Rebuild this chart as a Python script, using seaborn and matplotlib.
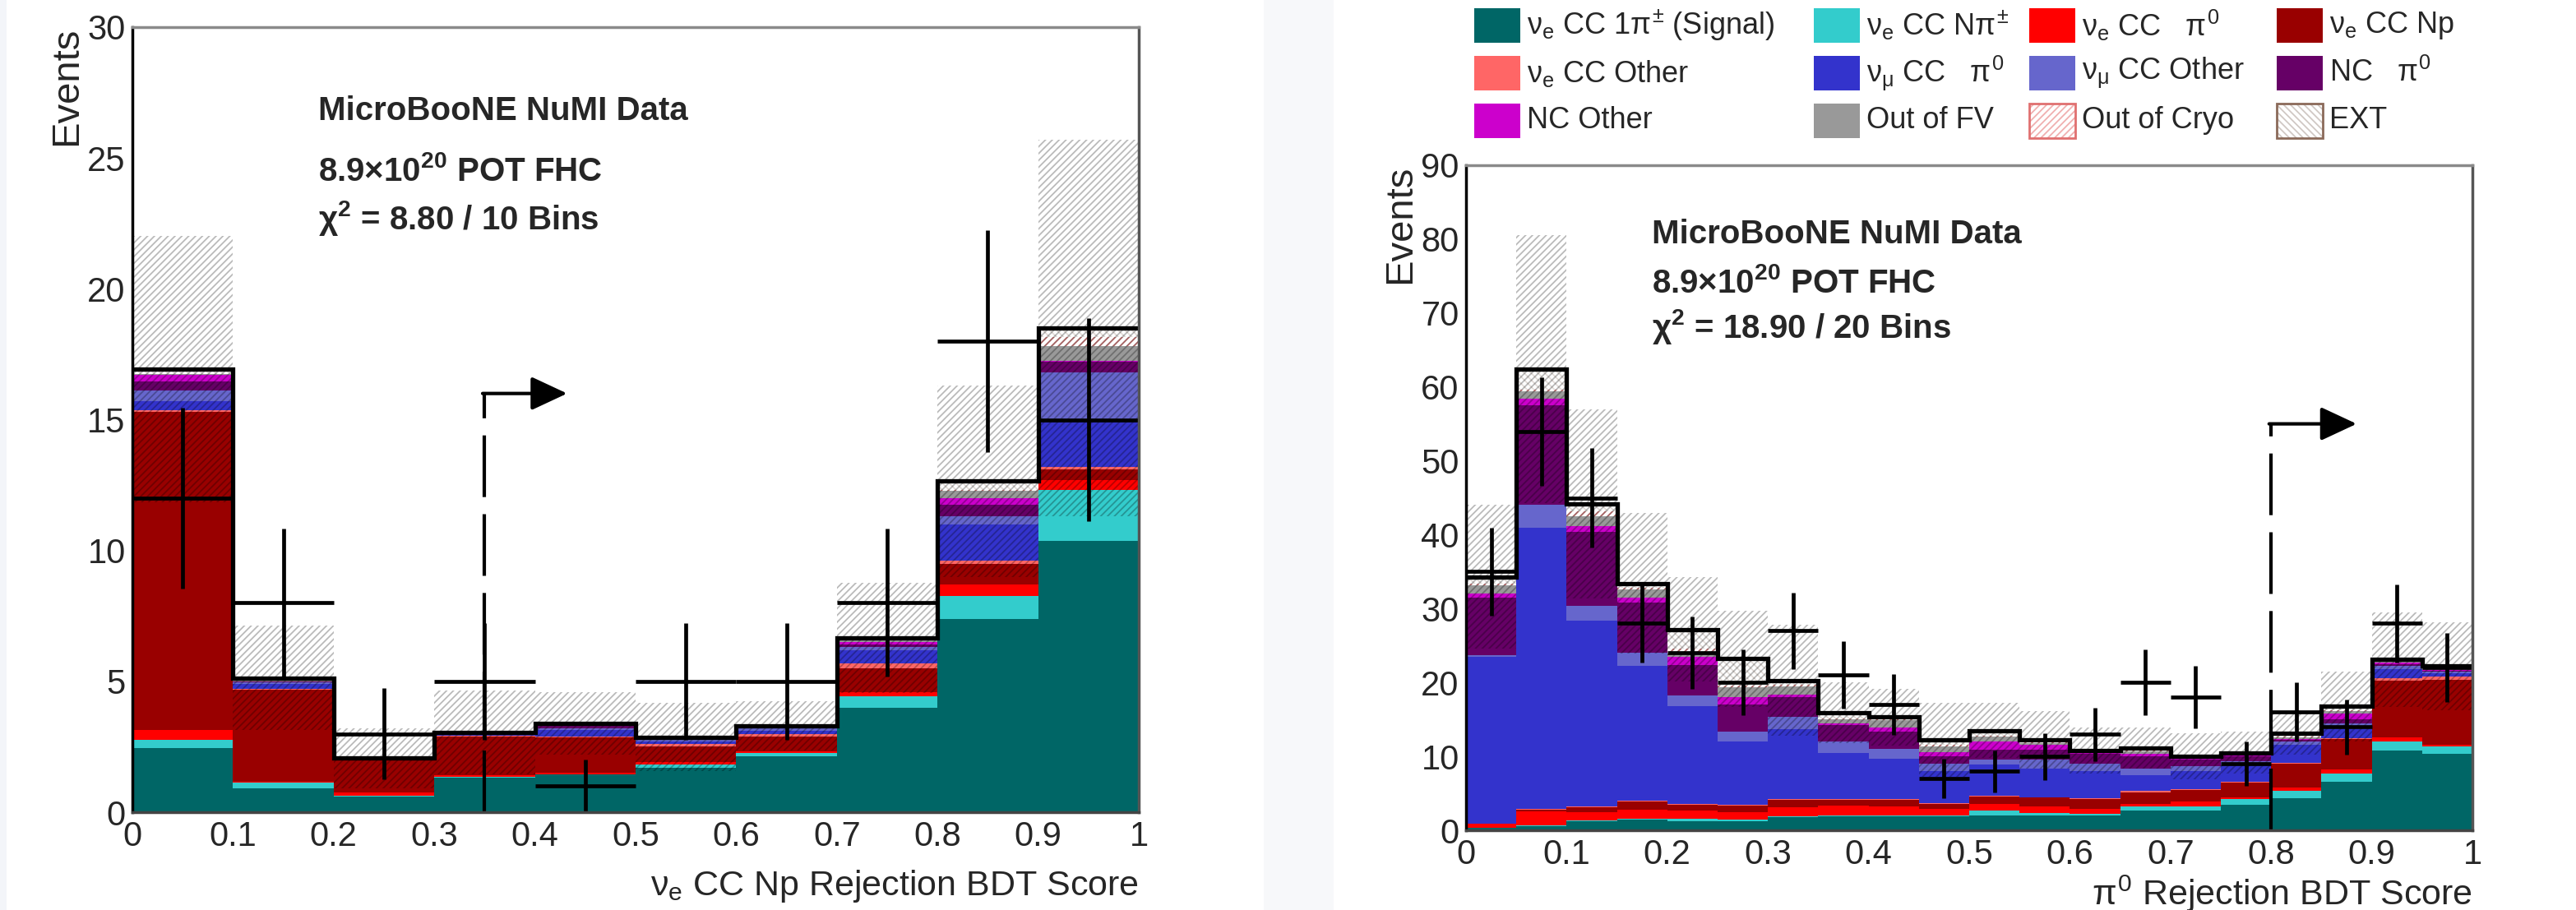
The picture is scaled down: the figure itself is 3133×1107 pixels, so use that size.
import numpy as np
import pandas as pd
import matplotlib.pyplot as plt
from matplotlib.patches import Rectangle
from matplotlib.colors import to_rgba
import seaborn as sns

sns.set_style("white")
plt.rcParams['font.family'] = ['Liberation Sans', 'DejaVu Sans']
plt.rcParams['mathtext.fontset'] = 'custom'
plt.rcParams['mathtext.rm'] = 'Liberation Sans'
plt.rcParams['mathtext.it'] = 'Liberation Sans'
plt.rcParams['mathtext.bf'] = 'Liberation Sans:bold'
plt.rcParams['hatch.linewidth'] = 1.3

# categories, bottom of the stack first
categories = ["signal", "cc_npi", "cc_pi0", "cc_np", "cc_other", "numu_pi0",
              "numu_other", "nc_pi0", "nc_other", "out_fv", "out_cryo", "ext"]
labels = [r"$\nu_e$ CC 1$\pi^{\pm}$ (Signal)", r"$\nu_e$ CC N$\pi^{\pm}$",
          r"$\nu_e$ CC   $\pi^0$", r"$\nu_e$ CC Np", r"$\nu_e$ CC Other",
          r"$\nu_\mu$ CC   $\pi^0$", r"$\nu_\mu$ CC Other", r"NC   $\pi^0$",
          "NC Other", "Out of FV", "Out of Cryo", "EXT"]
colors = ["#006666", "#33cccc", "#ff0000", "#990000", "#ff6666", "#3333cc",
          "#6666cc", "#660066", "#cc00cc", "#999999", "#fffffe", "#fefffe"]

# ---- left panel: nue CC Np rejection BDT (10 bins) ----
np_signal = [2.44, 0.90, 0.60, 1.33, 1.43, 1.70, 2.15, 4.00, 7.38, 10.38]
np_ccnpi = [0.34, 0.22, 0.03, 0.02, 0.02, 0.12, 0.12, 0.44, 0.89, 1.92]
np_ccpi0 = [0.35, 0.05, 0.12, 0.05, 0.05, 0.11, 0.05, 0.16, 0.43, 0.40]
np_ccnp = [12.17, 3.50, 1.30, 1.50, 1.35, 0.57, 0.58, 0.90, 0.80, 0.40]
np_ccother = [0.05, 0.03, 0.00, 0.03, 0.05, 0.10, 0.10, 0.20, 0.10, 0.10]
np_numupi0 = [0.35, 0.20, 0.00, 0.05, 0.25, 0.10, 0.10, 0.50, 1.40, 1.73]
np_numuother = [0.40, 0.05, 0.00, 0.00, 0.05, 0.05, 0.10, 0.10, 0.30, 1.87]
np_ncpi0 = [0.35, 0.05, 0.00, 0.00, 0.10, 0.05, 0.05, 0.10, 0.45, 0.40]
np_ncother = [0.25, 0.00, 0.00, 0.00, 0.00, 0.00, 0.00, 0.10, 0.25, 0.05]
np_outfv = [0.05, 0.03, 0.00, 0.00, 0.00, 0.00, 0.00, 0.05, 0.27, 0.55]
np_cryo = [0.00, 0.00, 0.00, 0.00, 0.00, 0.00, 0.00, 0.00, 0.03, 0.35]
np_ext = [0.18, 0.10, 0.01, 0.08, 0.10, 0.07, 0.05, 0.12, 0.35, 0.35]
np_syst = [5.1, 2.0, 1.15, 1.6, 1.2, 1.3, 0.95, 2.1, 3.65, 7.2]
np_data = [12, 8, 3, 5, 1, 5, 5, 8, 18, 15]
np_data_err = [3.46, 2.83, 1.73, 2.24, 1.00, 2.24, 2.24, 2.83, 4.24, 3.87]

# ---- right panel: pi0 rejection BDT (20 bins) ----
pi0_signal = [0.3, 0.6, 1.2, 1.5, 1.2, 1.2, 1.8, 1.9, 1.9, 1.9,
              2.0, 2.0, 2.0, 2.7, 2.7, 3.5, 4.3, 6.6, 10.8, 10.3]
pi0_ccnpi = [0.05, 0.1, 0.1, 0.1, 0.4, 0.2, 0.1, 0.1, 0.1, 0.1,
             0.7, 0.3, 0.2, 0.5, 0.5, 0.7, 1.0, 1.1, 1.2, 1.0]
pi0_ccpi0 = [0.5, 1.9, 1.2, 1.2, 1.1, 1.1, 1.2, 1.3, 1.2, 0.9,
             0.9, 0.9, 0.7, 0.4, 0.7, 0.3, 0.5, 0.5, 0.55, 0.3]
pi0_ccnp = [0.05, 0.2, 0.6, 1.1, 0.8, 0.8, 1.0, 0.8, 0.9, 0.7,
            1.0, 1.2, 1.3, 1.5, 1.6, 2.0, 3.2, 4.2, 7.75, 8.8]
pi0_ccother = [0.0, 0.05, 0.1, 0.1, 0.1, 0.1, 0.1, 0.1, 0.1, 0.1,
               0.1, 0.1, 0.1, 0.2, 0.1, 0.1, 0.1, 0.1, 0.3, 0.4]
pi0_numupi0 = [22.6, 38.05, 25.2, 18.3, 13.2, 8.6, 9.5, 6.3, 5.5, 4.3,
               4.2, 3.8, 3.7, 2.1, 2.4, 2.2, 2.5, 1.2, 1.2, 0.5]
pi0_numuother = [0.2, 3.1, 2.0, 1.7, 1.5, 1.3, 1.6, 1.5, 1.3, 1.0,
                 0.7, 1.3, 1.0, 0.9, 0.7, 0.6, 0.4, 0.8, 0.4, 0.2]
pi0_ncpi0 = [7.8, 13.5, 10.0, 6.8, 4.1, 3.7, 2.7, 2.2, 2.3, 1.0,
             1.3, 1.3, 1.3, 1.7, 0.9, 0.6, 0.2, 0.5, 0.3, 0.1]
pi0_ncother = [0.5, 0.9, 0.8, 0.7, 1.1, 1.0, 0.4, 0.3, 0.6, 0.6,
               1.1, 0.7, 0.2, 0.3, 0.2, 0.1, 0.2, 0.8, 0.2, 0.1]
pi0_outfv = [1.2, 1.0, 1.3, 1.1, 0.3, 1.4, 1.1, 0.5, 1.0, 0.8,
             0.7, 0.2, 0.1, 0.4, 0.0, 0.1, 0.2, 0.3, 0.1, 0.2]
pi0_cryo = [0.2, 0.2, 0.7, 0.2, 0.8, 0.2, 0.2, 0.1, 0.1, 0.2,
            0.1, 0.1, 0.0, 0.1, 0.0, 0.0, 0.1, 0.1, 0.1, 0.1]
pi0_ext = [0.9, 2.8, 1.0, 0.6, 2.6, 3.6, 0.6, 0.8, 0.3, 0.6,
           0.7, 0.3, 0.2, 0.3, 0.2, 0.3, 0.4, 0.55, 0.2, 0.2]
pi0_syst = [9.7, 18.1, 12.8, 9.5, 7.1, 6.5, 7.5, 4.1, 3.8, 5.0,
            3.7, 3.9, 3.1, 2.8, 3.1, 2.8, 2.9, 4.75, 6.4, 6.0]
pi0_data = [35, 54, 45, 28, 24, 20, 27, 21, 17, 7,
            8, 10, 13, 20, 18, 9, 16, 14, 28, 22]
pi0_data_err = [5.92, 7.35, 6.71, 5.29, 4.90, 4.47, 5.20, 4.58, 4.12, 2.65,
                2.83, 3.16, 3.61, 4.47, 4.24, 3.00, 4.00, 3.74, 5.29, 4.69]

np_stack = [np_signal, np_ccnpi, np_ccpi0, np_ccnp, np_ccother, np_numupi0,
            np_numuother, np_ncpi0, np_ncother, np_outfv, np_cryo, np_ext]
pi0_stack = [pi0_signal, pi0_ccnpi, pi0_ccpi0, pi0_ccnp, pi0_ccother, pi0_numupi0,
             pi0_numuother, pi0_ncpi0, pi0_ncother, pi0_outfv, pi0_cryo, pi0_ext]

W, H = 3133, 1107
fig = plt.figure(figsize=(W / 100, H / 100), dpi=100)
# faint screenshot background strips
fig.add_artist(Rectangle((0, 0), 8 / W, 1, transform=fig.transFigure,
                         facecolor="#f3f5f9", lw=0))
fig.add_artist(Rectangle((1537 / W, 0), 85 / W, 1, transform=fig.transFigure,
                         facecolor="#f7f8fa", lw=0))

ax1 = fig.add_axes([161 / W, 1 - 988 / H, 1224 / W, 955 / H])
ax2 = fig.add_axes([1783 / W, 1 - 1010 / H, 1224 / W, 809 / H])

pal = dict(zip(categories, colors))


def draw_panel(ax, stack, syst, data, data_err, ymax, ymaj, ymin_step, xlabel,
               chi2, text_y, cut_x, cut_y, arrow_x, xlab_y):
    nb = len(data)
    edges = np.linspace(0, 1, nb + 1)
    centers = (edges[:-1] + edges[1:]) / 2
    width = edges[1] - edges[0]

    rows = []
    for cat, vals in zip(categories, stack):
        for c, v in zip(centers, vals):
            rows.append((c, cat, v))
    df = pd.DataFrame(rows, columns=["score", "cat", "events"])

    sns.histplot(data=df, x="score", weights="events", hue="cat",
                 hue_order=categories[::-1], palette=pal, multiple="stack",
                 bins=[float(e) for e in edges], element="bars", fill=True,
                 alpha=1, linewidth=0, legend=False, ax=ax, zorder=1)

    # hatched components (Out of Cryo, EXT)
    for p in ax.patches:
        fc = p.get_facecolor()
        if np.allclose(fc, to_rgba(pal["out_cryo"])):
            p.set_facecolor("white")
            p.set_hatch("////")
            p.set_edgecolor("#e08888")
            p.set_linewidth(0)
        elif np.allclose(fc, to_rgba(pal["ext"])):
            p.set_facecolor("white")
            p.set_hatch("\\\\\\\\")
            p.set_edgecolor("#e2dcd8")
            p.set_linewidth(0)

    total = np.sum(np.array(stack), axis=0)
    syst = np.array(syst)

    # uncertainty band (translucent hatch: grey on white, darker on the stack)
    ax.bar(centers, 2 * syst, bottom=total - syst, width=width, align="center",
           facecolor="none", edgecolor=(0, 0, 0, 0.27), hatch="////", linewidth=0,
           zorder=2)
    # total prediction
    ax.stairs(total, edges, color="black", linewidth=3.8, baseline=None, zorder=3)
    # data
    ax.errorbar(centers, data, xerr=width / 2, yerr=data_err, fmt="none",
                ecolor="black", elinewidth=3.4, capsize=0, zorder=4)

    # selection cut
    ax.plot([cut_x, cut_x], [0, cut_y], color="black", lw=3,
            linestyle=(0, (18, 5)), zorder=5)
    ax.annotate("", xy=(arrow_x, cut_y), xytext=(cut_x - 0.002, cut_y),
                arrowprops=dict(arrowstyle="-|>,head_length=0.9,head_width=0.42",
                                lw=3, color="black", mutation_scale=30,
                                shrinkA=0, shrinkB=0), zorder=5)

    ax.text(0.185, text_y[0], "MicroBooNE NuMI Data", fontsize=29,
            fontweight="bold", va="center", ha="left")
    ax.text(0.185, text_y[1], r"8.9$\mathbf{\times}$10$^{\mathbf{20}}$ POT FHC",
            fontsize=29, fontweight="bold", va="center", ha="left")
    ax.text(0.185, text_y[2], r"$\mathbf{\chi^2}$ = " + chi2, fontsize=29,
            fontweight="bold", va="center", ha="left")

    ax.set_xlim(0, 1)
    ax.set_ylim(0, ymax)
    ax.set_xticks(np.arange(0, 1.01, 0.1))
    ax.set_xticklabels(["0", "0.1", "0.2", "0.3", "0.4", "0.5", "0.6", "0.7",
                        "0.8", "0.9", "1"])
    ax.set_xticks(np.arange(0, 1.001, 0.02), minor=True)
    ax.set_yticks(np.arange(0, ymax + 0.1, ymaj))
    ax.set_yticks(np.arange(0, ymax + 0.1, ymin_step), minor=True)
    ax.tick_params(axis="both", which="major", direction="in", length=24,
                   width=2.5, labelsize=30, color="black", top=False, right=False)
    ax.tick_params(axis="both", which="minor", direction="in", length=13,
                   width=2, color="black", top=False, right=False)
    ax.tick_params(axis="x", which="major", pad=7)
    ax.tick_params(axis="y", which="major", pad=6)

    ax.set_xlabel(xlabel, fontsize=31)
    ax.xaxis.label.set_ha("right")
    ax.xaxis.label.set_va("center")
    ax.xaxis.set_label_coords(1.0, xlab_y)
    ax.set_ylabel("Events", fontsize=34, loc="top")
    ax.yaxis.set_label_coords(-0.047, 1.0)

    ax.spines["left"].set_color("black")
    ax.spines["bottom"].set_color("#444444")
    ax.spines["top"].set_color("#8a8a8a")
    ax.spines["right"].set_color("#555555")
    for s in ax.spines.values():
        s.set_linewidth(2.5)
        s.set_zorder(6)


draw_panel(ax1, np_stack, np_syst, np_data, np_data_err, 30, 5, 1,
           r"$\nu_e$ CC Np Rejection BDT Score", "8.80 / 10 Bins",
           (26.8, 24.5, 22.7), 0.35, 16.0, 0.432, -90 / 955)
draw_panel(ax2, pi0_stack, pi0_syst, pi0_data, pi0_data_err, 90, 10, 2,
           r"$\pi^0$ Rejection BDT Score", "18.90 / 20 Bins",
           (80.7, 74.0, 68.1), 0.8, 55.0, 0.885, -77 / 809)

# legend above right panel, laid out like the ROOT TLegend (4 columns x 3 rows)
leg_cols = [1793, 2206, 2468, 2769]
leg_rows = [31, 89, 147]
order = [["signal", "cc_npi", "cc_pi0", "cc_np"],
         ["cc_other", "numu_pi0", "numu_other", "nc_pi0"],
         ["nc_other", "out_fv", "out_cryo", "ext"]]
lab = dict(zip(categories, labels))
pw, ph = 56, 42
for r, row in enumerate(order):
    for c, cat in enumerate(row):
        x0 = leg_cols[c] / W
        y0 = 1 - (leg_rows[r] + ph / 2) / H
        if cat == "out_cryo":
            fig.add_artist(Rectangle((x0, y0), pw / W, ph / H, transform=fig.transFigure,
                                     facecolor="white", edgecolor="#f0b0b0",
                                     hatch="////", lw=0))
            fig.add_artist(Rectangle((x0, y0), pw / W, ph / H, transform=fig.transFigure,
                                     facecolor="none", edgecolor="#e07070", lw=2))
        elif cat == "ext":
            fig.add_artist(Rectangle((x0, y0), pw / W, ph / H, transform=fig.transFigure,
                                     facecolor="white", edgecolor="#d0c8c4",
                                     hatch="\\\\\\\\", lw=0))
            fig.add_artist(Rectangle((x0, y0), pw / W, ph / H, transform=fig.transFigure,
                                     facecolor="none", edgecolor="#8b6a5a", lw=2))
        else:
            fig.add_artist(Rectangle((x0, y0), pw / W, ph / H, transform=fig.transFigure,
                                     facecolor=pal[cat], lw=0))
        fig.text((leg_cols[c] + pw + 8) / W, 1 - leg_rows[r] / H, lab[cat],
                 fontsize=26, va="center", ha="left")

fig.savefig("out.png", dpi=100)
